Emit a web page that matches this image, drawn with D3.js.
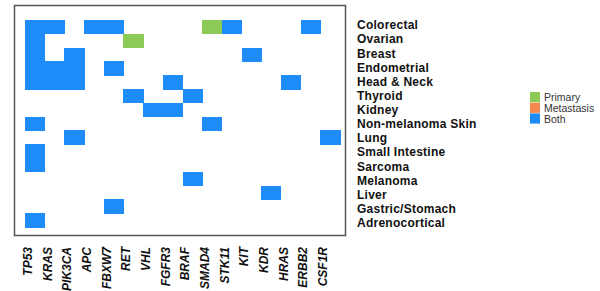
<!DOCTYPE html>
<html lang="en">
<head>
  <meta charset="UTF-8">
  <title>Gene heatmap</title>
  <style type="text/css">
    body { margin: 0px; background: #fff; }
    .row-label { font-family: "Liberation Sans", Arial, sans-serif; font-size: 12px; font-weight: bold; fill: #111; letter-spacing: 0.25px; }
    .gene-label { font-family: "Liberation Sans", Arial, sans-serif; font-size: 12px; font-style: italic; font-weight: bold; fill: #111; }
    .legend-label { font-family: "Liberation Sans", Arial, sans-serif; font-size: 10.5px; fill: #333; }
  </style>
  <script src="https://d3js.org/d3.v7.min.js"></script>
</head>
<body>
  <svg width="600" height="291"></svg>
  <script>
    const genes = ['TP53', 'KRAS', 'PIK3CA', 'APC', 'FBXW7', 'RET', 'VHL', 'FGFR3',
      'BRAF', 'SMAD4', 'STK11', 'KIT', 'KDR', 'HRAS', 'ERBB2', 'CSF1R'];
    const cancers = ['Colorectal', 'Ovarian', 'Breast', 'Endometrial', 'Head & Neck', 'Thyroid',
      'Kidney', 'Non-melanoma Skin', 'Lung', 'Small Intestine', 'Sarcoma', 'Melanoma',
      'Liver', 'Gastric/Stomach', 'Adrenocortical'];
    const types = ['Primary', 'Metastasis', 'Both'];

    // [cancer, gene, type]
    const cells = [
      ['Colorectal', 'TP53', 'Both'], ['Colorectal', 'KRAS', 'Both'], ['Colorectal', 'APC', 'Both'],
      ['Colorectal', 'FBXW7', 'Both'], ['Colorectal', 'SMAD4', 'Primary'], ['Colorectal', 'STK11', 'Both'],
      ['Colorectal', 'ERBB2', 'Both'],
      ['Ovarian', 'TP53', 'Both'], ['Ovarian', 'RET', 'Primary'],
      ['Breast', 'TP53', 'Both'], ['Breast', 'PIK3CA', 'Both'], ['Breast', 'KIT', 'Both'],
      ['Endometrial', 'TP53', 'Both'], ['Endometrial', 'KRAS', 'Both'], ['Endometrial', 'PIK3CA', 'Both'],
      ['Endometrial', 'FBXW7', 'Both'],
      ['Head & Neck', 'TP53', 'Both'], ['Head & Neck', 'KRAS', 'Both'], ['Head & Neck', 'PIK3CA', 'Both'],
      ['Head & Neck', 'FGFR3', 'Both'], ['Head & Neck', 'HRAS', 'Both'],
      ['Thyroid', 'RET', 'Both'], ['Thyroid', 'BRAF', 'Both'],
      ['Kidney', 'VHL', 'Both'], ['Kidney', 'FGFR3', 'Both'],
      ['Non-melanoma Skin', 'TP53', 'Both'], ['Non-melanoma Skin', 'SMAD4', 'Both'],
      ['Lung', 'PIK3CA', 'Both'], ['Lung', 'CSF1R', 'Both'],
      ['Small Intestine', 'TP53', 'Both'],
      ['Sarcoma', 'TP53', 'Both'],
      ['Melanoma', 'BRAF', 'Both'],
      ['Liver', 'KDR', 'Both'],
      ['Gastric/Stomach', 'FBXW7', 'Both'],
      ['Adrenocortical', 'TP53', 'Both']
    ];

    const svg = d3.select('svg');

    const x = d3.scaleBand().domain(genes).range([25, 340]).padding(0);
    const y = d3.scaleBand().domain(cancers).range([20, 227]).padding(0);
    const labelY = d3.scaleBand().domain(cancers).range([18, 230]);
    const color = d3.scaleOrdinal().domain(types).range(['#8bcb55', '#f5884f', '#1e8cf8']);

    // frame
    svg.append('rect')
      .attr('x', 14.5).attr('y', 5.5)
      .attr('width', 331).attr('height', 230)
      .attr('fill', 'none')
      .attr('stroke', '#555')
      .attr('stroke-width', 1.5);

    svg.append('g')
      .attr('shape-rendering', 'crispEdges')
      .selectAll('rect').data(cells)
      .enter().append('rect')
        .attr('x', d => x(d[1]))
        .attr('y', d => y(d[0]))
        .attr('width', x.bandwidth() + 0.5)
        .attr('height', y.bandwidth() + 0.5)
        .attr('fill', d => color(d[2]));

    // cancer labels on the right
    svg.append('g').selectAll('text').data(cancers)
      .enter().append('text')
        .attr('class', 'row-label')
        .attr('x', 357)
        .attr('y', d => labelY(d) + labelY.bandwidth() / 2)
        .attr('dy', '0.35em')
        .text(d => d);

    // gene labels, rotated
    svg.append('g').selectAll('text').data(genes)
      .enter().append('text')
        .attr('class', 'gene-label')
        .attr('text-anchor', 'end')
        .attr('transform', d => `translate(${x(d) + x.bandwidth() / 2 - 3},247) rotate(-90)`)
        .text(d => d);

    // legend
    const legend = svg.append('g').attr('transform', 'translate(530,92)');
    const item = legend.selectAll('g').data(types)
      .enter().append('g')
        .attr('transform', (d, i) => `translate(0,${i * 10.7})`);
    item.append('rect')
      .attr('width', 10).attr('height', 10.2)
      .attr('fill', d => color(d));
    item.append('text')
      .attr('class', 'legend-label')
      .attr('x', 14)
      .attr('y', 5.5)
      .attr('dy', '0.35em')
      .text(d => d);
  </script>
</body>
</html>
